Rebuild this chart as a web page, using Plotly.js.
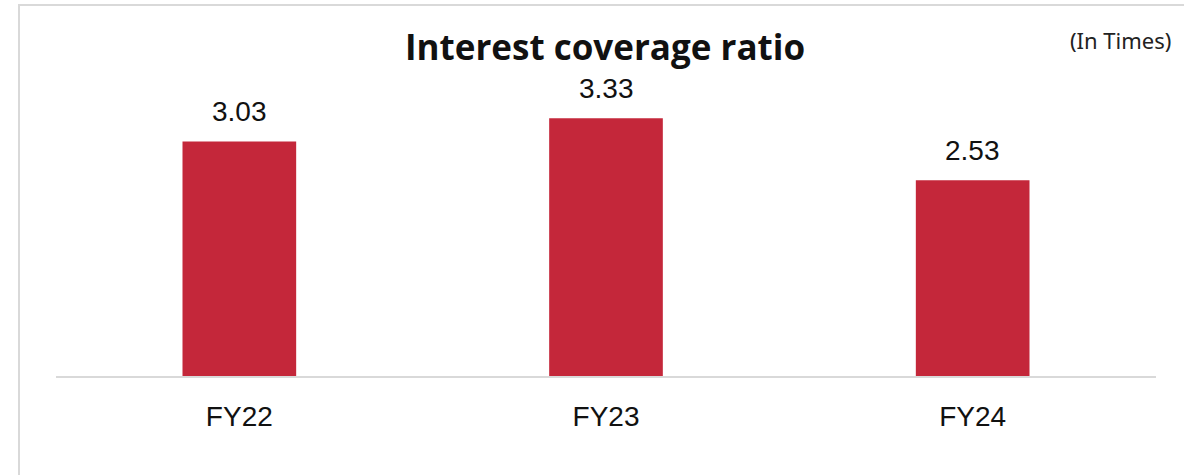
<!DOCTYPE html>
<html><head><meta charset="utf-8">
<script src="https://cdn.plot.ly/plotly-3.0.1.min.js"></script>
<style>
body{margin:0;padding:0;background:#fff;}
#wrap{position:relative;width:1184px;height:475px;overflow:hidden;}
#frame{position:absolute;left:18px;top:4px;width:1300px;height:600px;border:2px solid #d9d9d9;box-sizing:border-box;pointer-events:none;}
#chart{position:absolute;left:0;top:0;width:1184px;height:475px;}
</style></head>
<body><div id="wrap"><div id="frame"></div><div id="chart"></div></div>
<script>
const categories = ["FY22", "FY23", "FY24"];
const values = [3.03, 3.33, 2.53];
const labels = ["3.03", "3.33", "2.53"];
const titleText = "Interest coverage ratio";
const unitText = "(In Times)";

const annotations = categories.map((c, i) => ({
  x: c, y: values[i], xref: 'x', yref: 'y', text: labels[i], showarrow: false,
  yanchor: 'bottom', yshift: 12,
  font: {family: 'Liberation Sans, Arial, sans-serif', size: 28, color: '#111'}
}));
annotations.push({
  xref: 'paper', yref: 'paper', x: 1.0155, y: 1.031, xanchor: 'right', yanchor: 'middle',
  text: unitText, showarrow: false,
  font: {family: 'Noto Sans, sans-serif', size: 22, color: '#222'}
});

const data = [{
  type: 'bar', x: categories, y: values,
  marker: {color: '#C4273A'}, hoverinfo: 'none'
}];

const layout = {
  width: 1184, height: 475,
  margin: {l: 56, r: 28, t: 50, b: 99},
  paper_bgcolor: 'rgba(0,0,0,0)', plot_bgcolor: 'rgba(0,0,0,0)',
  bargap: 0.69,
  showlegend: false,
  title: {text: '<b>' + titleText + '</b>', xref: 'container', yref: 'container',
    x: 0.511, y: 0.899, xanchor: 'center', yanchor: 'middle',
    font: {family: 'Open Sans, sans-serif', size: 35, color: '#111'}},
  xaxis: {showline: true, linecolor: '#d9d9d9', linewidth: 2, showgrid: false, zeroline: false,
    ticks: 'outside', ticklen: 14, tickcolor: 'rgba(0,0,0,0)',
    tickfont: {family: 'Liberation Sans, Arial, sans-serif', size: 28, color: '#111'}},
  yaxis: {range: [0, 4.212], visible: false, showgrid: false, zeroline: false},
  annotations: annotations
};
Plotly.newPlot('chart', data, layout, {displayModeBar: false, staticPlot: true});
</script></body></html>
